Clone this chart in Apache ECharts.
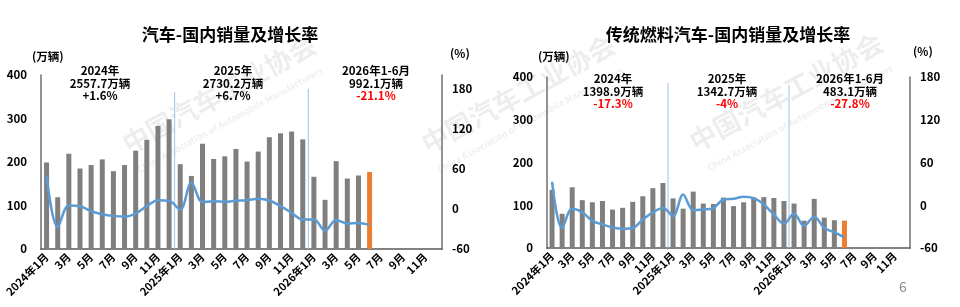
<!DOCTYPE html>
<html>
<head>
<meta charset="utf-8">
<script src="https://cdn.jsdelivr.net/npm/echarts@6/dist/echarts.min.js"></script>
<style>
  html, body { margin: 0; padding: 0; background: #fff; }
  #main { width: 960px; height: 307px; }
</style>
</head>
<body>
<div id="main"></div>
<script>
  var years = ['2024', '2025', '2026'];
  var months = [1, 2, 3, 4, 5, 6, 7, 8, 9, 10, 11, 12];
  var categories = [];
  years.forEach(function (y) {
    months.forEach(function (m) {
      categories.push(m === 1 ? y + '年1月' : m + '月');
    });
  });

  // 汽车 国内销量 (万辆) / 同比 (%)
  var totalSales = [199, 119, 219, 185, 193, 206, 179, 193, 226, 251, 283, 298,
                    195, 168, 242, 207, 213, 230, 201, 224, 257, 266, 270, 252,
                    166, 113, 202, 162, 169, 177];
  var totalGrowth = [50, -27, 5, 4, -3.6, -8, -10.5, -11.5, -7, 4, 13, 12,
                     -1, 39, 10, 11.5, 10.5, 12, 13, 15, 12.5, 4, -6, -16,
                     -16, -32.5, -16.5, -22, -21, -24];
  // 传统燃料汽车 国内销量 (万辆) / 同比 (%)
  var iceSales = [136, 80, 142, 112, 107, 110, 90, 94, 108, 121, 140, 152,
                  116, 92, 132, 104, 103, 118, 98, 107, 118, 119, 117, 110,
                  104, 64, 115, 71, 65, 64];
  var iceGrowth = [33, -32, -5, -10, -22, -27, -31, -33, -32, -20, -10, -4,
                   -15, 15, -7, -6, -4, 8, 9, 12, 10, 1, -13, -26,
                   -12, -29, -16, -32, -38, -45];

  var notesLeft = [
    ['2024年', '2557.7万辆', '+1.6%'],
    ['2025年', '2730.2万辆', '+6.7%'],
    ['2026年1-6月', '992.1万辆', '-21.1%']
  ];
  var notesRight = [
    ['2024年', '1398.9万辆', '-17.3%'],
    ['2025年', '1342.7万辆', '-4%'],
    ['2026年1-6月', '483.1万辆', '-27.8%']
  ];

  var FONT = '"Noto Sans CJK SC", "Noto Sans", sans-serif';
  var GRAY = '#7f7f7f';
  var ORANGE = '#ed7d31';
  var BLUE = '#5b9bd5';
  var SEP = '#9dc3e6';

  function barData(arr) {
    return arr.map(function (v, i) {
      if (i === arr.length - 1) return { value: v, itemStyle: { color: ORANGE } };
      return v;
    });
  }

  function noteTexts(xs, y0, notes) {
    var els = [];
    notes.forEach(function (n, k) {
      n.forEach(function (t, i) {
        var red = i === 2 && t.charAt(0) === '-';
        els.push({
          type: 'text', x: xs[k], y: y0 + i * 12.5, z: 10,
          style: {
            text: t, align: 'center', textAlign: 'center',
            verticalAlign: 'middle', textVerticalAlign: 'middle',
            font: 'bold 11.5px ' + FONT, fill: red ? '#ff0000' : '#000'
          }
        });
      });
    });
    return els;
  }

  function plain(x, y, t, size, color, align) {
    return {
      type: 'text', x: x, y: y, z: 10,
      style: {
        text: t, align: align || 'left', textAlign: align || 'left',
        verticalAlign: 'middle', textVerticalAlign: 'middle',
        font: 'bold ' + size + 'px ' + FONT, fill: color || '#000'
      }
    };
  }

  function mark(cx, cy, t, size) {
    return {
      type: 'text', x: cx, y: cy, rotation: 0.5, z: -1,
      style: {
        text: t, align: 'center', textAlign: 'center',
        verticalAlign: 'middle', textVerticalAlign: 'middle',
        font: 'bold ' + size + 'px ' + FONT, fill: 'rgba(0,0,0,0.07)'
      }
    };
  }

  function catAxis(gi) {
    return {
      type: 'category', gridIndex: gi, data: categories,
      axisLine: { lineStyle: { color: '#595959', width: 1.5 } },
      axisTick: { show: false },
      axisLabel: {
        interval: 1, rotate: 45, margin: 6,
        fontSize: 11, fontWeight: 'bold', color: '#000', fontFamily: FONT
      }
    };
  }
  function hiddenAxis(gi) {
    return { type: 'value', gridIndex: gi, min: 0, max: 36, show: false };
  }
  function leftAxis(gi) {
    return {
      type: 'value', gridIndex: gi, min: 0, max: 400, interval: 100, position: 'left',
      axisLine: { show: true, lineStyle: { color: GRAY, width: 1.7 } },
      axisTick: { show: false }, splitLine: { show: false },
      axisLabel: { margin: 14, fontSize: 11.5, fontWeight: 'bold', color: '#000', fontFamily: FONT }
    };
  }
  function rightAxis(gi, max) {
    return {
      type: 'value', gridIndex: gi, min: -60, max: max, interval: 60, position: 'right',
      axisLine: { show: true, lineStyle: { color: GRAY, width: 1.7 } },
      axisTick: { show: false }, splitLine: { show: false },
      axisLabel: { margin: 10, showMaxLabel: max === 180, fontSize: 11.5, fontWeight: 'bold', color: '#000', fontFamily: FONT }
    };
  }
  function sepLine(xi, yi, pos, top) {
    return {
      type: 'line', xAxisIndex: xi, yAxisIndex: yi, data: [[pos, 0], [pos, top]],
      symbol: 'none', silent: true, z: 1,
      lineStyle: { color: SEP, width: 1 }
    };
  }
  function bars(xi, yi, arr) {
    return { type: 'bar', xAxisIndex: xi, yAxisIndex: yi, data: barData(arr), barWidth: 5, itemStyle: { color: GRAY }, z: 2 };
  }
  function growth(xi, yi, arr) {
    return {
      type: 'line', xAxisIndex: xi, yAxisIndex: yi, data: arr, smooth: 0.35,
      symbol: 'none', z: 3, lineStyle: { color: BLUE, width: 2.5 }
    };
  }

  var chart = echarts.init(document.getElementById('main'), null, { renderer: 'canvas' });

  var option = {
    animation: false,
    textStyle: { fontFamily: FONT },
    title: [
      { text: '汽车-国内销量及增长率', left: 225, top: 21, textAlign: 'center',
        textStyle: { fontSize: 17, fontWeight: 'bold', color: '#000', fontFamily: FONT } },
      { text: '传统燃料汽车-国内销量及增长率', left: 723, top: 21, textAlign: 'center',
        textStyle: { fontSize: 17, fontWeight: 'bold', color: '#000', fontFamily: FONT } }
    ],
    grid: [
      { left: 41, right: 518, top: 75, bottom: 58 },
      { left: 547, right: 50, top: 77, bottom: 59 }
    ],
    xAxis: [catAxis(0), hiddenAxis(0), catAxis(1), hiddenAxis(1)],
    yAxis: [leftAxis(0), rightAxis(0, 200), leftAxis(1), rightAxis(1, 180)],
    series: [
      bars(0, 0, totalSales),
      growth(0, 1, totalGrowth),
      sepLine(1, 0, 12, 361),
      sepLine(1, 0, 24, 368),
      bars(2, 2, iceSales),
      growth(2, 3, iceGrowth),
      sepLine(3, 2, 12, 386),
      sepLine(3, 2, 24, 381)
    ],
    graphic: [
      mark(219, 94, '中国汽车工业协会', 27),
      mark(230, 120, 'China Association of Automobile Manufacturers', 9),
      mark(518, 94, '中国汽车工业协会', 27),
      mark(530, 120, 'China Association of Automobile Manufacturers', 9),
      mark(786, 92, '中国汽车工业协会', 27),
      mark(800, 118, 'China Association of Automobile Manufacturers', 9),
      plain(32, 57, '(万辆)', 11.5),
      plain(450, 54, '(%)', 11.5),
      plain(538, 57, '(万辆)', 11.5),
      plain(913, 52, '(%)', 11.5),
      { type: 'text', x: 903, y: 287, z: 10,
        style: { text: '6', align: 'center', textAlign: 'center', verticalAlign: 'middle',
                 textVerticalAlign: 'middle', font: '14px ' + FONT, fill: '#8c8c8c' } }
    ].concat(noteTexts([100, 233, 376], 71, notesLeft))
     .concat(noteTexts([613, 727, 850], 79, notesRight))
  };

  chart.setOption(option);
</script>
</body>
</html>
